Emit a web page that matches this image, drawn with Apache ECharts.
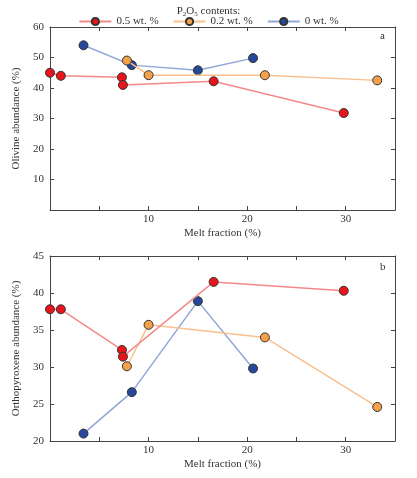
<!DOCTYPE html>
<html><head><meta charset="utf-8">
<script src="https://cdn.jsdelivr.net/npm/echarts@6/dist/echarts.min.js"></script>
<style>body{margin:0;background:#fff}#c{width:417px;height:478px}</style>
</head><body><div id="c"></div>
<script>
const redX = [0, 1.1, 7.3, 7.4, 16.6, 29.8];
const redOl = [45, 44, 43.5, 41, 42.2, 31.8];
const redOpx = [37.8, 37.8, 32.3, 31.4, 41.5, 40.3];
const orangeX = [7.8, 10, 21.8, 33.2];
const orangeOl = [49, 44.2, 44.2, 42.5];
const orangeOpx = [30.1, 35.7, 34, 24.6];
const blueX = [3.4, 8.3, 15, 20.6];
const blueOl = [54, 47.5, 45.8, 49.8];
const blueOpx = [21, 26.6, 38.9, 29.8];
const seriesNames = ['0.5 wt. %', '0.2 wt. %', '0 wt. %'];

const F = 'Liberation Serif';
const dot = ['#e8141c', '#f5a04a', '#27479a'];
const line = ['#f38a8a', '#f9c08e', '#8fa6d6'];
const zip = (xs, ys) => xs.map((x, i) => [x, ys[i]]);

function xAxis(idx, show) {
  return {
    type: 'value', gridIndex: idx, min: 0, max: 35, interval: 5,
    position: show ? 'bottom' : 'top',
    name: show ? 'Melt fraction (%)' : '', nameLocation: 'middle', nameGap: 18,
    nameTextStyle: {fontFamily: F, fontSize: 11, color: '#333'},
    axisLine: {show: true, onZero: false, lineStyle: {color: '#444'}},
    axisTick: {inside: true, length: 4, lineStyle: {color: '#444'}},
    axisLabel: {show: show, fontFamily: F, fontSize: 11, color: '#333', margin: 4,
      formatter: v => (v % 10 === 0 && v > 0) ? v : ''},
    splitLine: {show: false}
  };
}
function yAxis(idx, min, max, itv, name, show) {
  return {
    type: 'value', gridIndex: idx, min: min, max: max, interval: itv,
    position: show ? 'left' : 'right',
    name: show ? name : '', nameLocation: 'middle', nameGap: 28,
    nameTextStyle: {fontFamily: F, fontSize: 11, color: '#333'},
    axisLine: {show: true, onZero: false, lineStyle: {color: '#444'}},
    axisTick: {inside: true, length: 4, lineStyle: {color: '#444'}},
    axisLabel: {show: show, fontFamily: F, fontSize: 11, color: '#333', margin: 6,
      formatter: v => (v === 0 ? '' : v)},
    splitLine: {show: false}
  };
}
function s(name, i, data, gi) {
  return {
    name: name, type: 'line', xAxisIndex: gi * 2, yAxisIndex: gi * 2, data: data,
    symbol: 'circle', symbolSize: 9,
    itemStyle: {color: dot[i], borderColor: '#333', borderWidth: 1},
    lineStyle: {color: line[i], width: 1.5}, z: 3 - i
  };
}

const chart = echarts.init(document.getElementById('c'));
chart.setOption({
  animation: false,
  title: {text: 'P{s|2}O{s|5} contents:', left: 'center', top: 0,
    textStyle: {fontFamily: F, fontSize: 11, fontWeight: 'normal', color: '#333',
      rich: {s: {fontSize: 7, verticalAlign: 'bottom', padding: [6, 0, 0, 0], fontFamily: F}}}},
  legend: {top: 11, left: 'center', itemGap: 14, itemWidth: 32, itemHeight: 9,
    data: seriesNames, textStyle: {fontFamily: F, fontSize: 11, color: '#333'}},
  grid: [
    {left: 50, right: 22, top: 27, height: 183},
    {left: 50, right: 22, top: 256, height: 185}
  ],
  xAxis: [xAxis(0, true), xAxis(0, false), xAxis(1, true), xAxis(1, false)],
  yAxis: [
    yAxis(0, 0, 60, 10, 'Olivine abundance (%)', true), yAxis(0, 0, 60, 10, '', false),
    yAxis(1, 20, 45, 5, 'Orthopyroxene abundance (%)', true), yAxis(1, 20, 45, 5, '', false)
  ],
  graphic: [
    {type: 'text', left: 380, top: 31, style: {text: 'a', font: '11px "Liberation Serif"', fill: '#333'}},
    {type: 'text', left: 380, top: 262, style: {text: 'b', font: '11px "Liberation Serif"', fill: '#333'}}
  ],
  series: [
    s(seriesNames[0], 0, zip(redX, redOl), 0),
    s(seriesNames[1], 1, zip(orangeX, orangeOl), 0),
    s(seriesNames[2], 2, zip(blueX, blueOl), 0),
    s(seriesNames[0], 0, zip(redX, redOpx), 1),
    s(seriesNames[1], 1, zip(orangeX, orangeOpx), 1),
    s(seriesNames[2], 2, zip(blueX, blueOpx), 1)
  ]
});
</script></body></html>
